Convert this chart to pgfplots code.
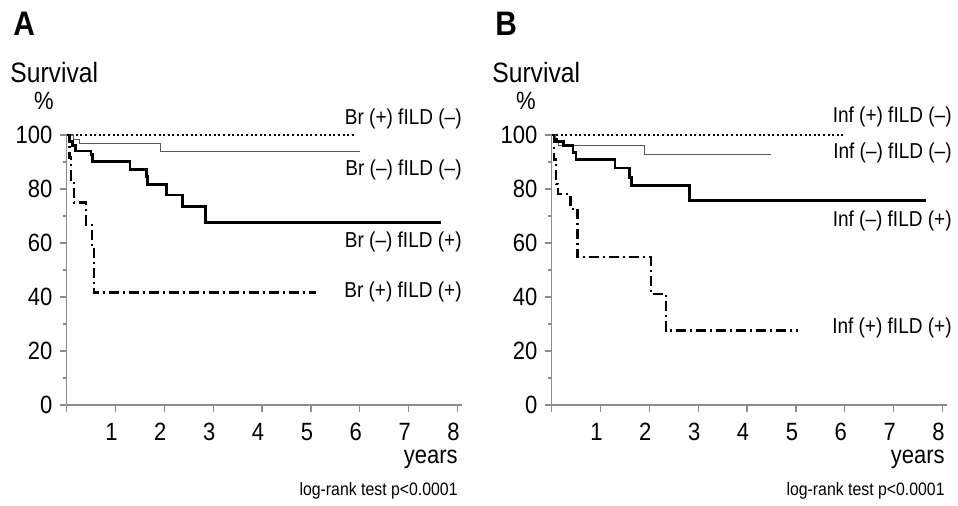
\documentclass[border=0pt]{standalone}
\usepackage{fontspec}
\setmainfont{Liberation Sans}[FakeStretch=0.88]
\usepackage{pgfplots}
\pgfplotsset{compat=1.18}

\pgfplotsset{
  km/.style={
    scale only axis, width=198pt, height=135pt,
    anchor=south west,
    xmin=0, xmax=8.1, ymin=0, ymax=100,
    axis lines*=left, clip=false,
    axis line style={black!45, line width=0.7pt},
    tick align=outside,
    major tick length=3.5pt, minor tick length=2pt,
    every tick/.style={black!45, line width=0.6pt},
    xtick={0,1,...,8}, xticklabels={{},1,2,3,4,5,6,7,8},
    ytick={0,20,...,100}, minor y tick num=1,
    /pgf/number format/assume math mode=true,
    ticklabel style={font=\fontsize{12.5}{12.5}\selectfont},
    xticklabel style={xshift=-2pt, yshift=-2pt},
    yticklabel style={xshift=0pt},
  },
  dotline/.style={black, line width=1pt, dash pattern=on 1pt off 1.3pt},
  thinline/.style={black!65, line width=0.6pt},
  thickline/.style={black, line width=1.4pt},
  dashdot/.style={black, line width=1.1pt, dash pattern=on 5pt off 2pt on 1pt off 2pt},
}

\begin{document}
\begin{tikzpicture}[x=0.5pt,y=-0.5pt]
\path[use as bounding box] (0,0) rectangle (958,506);

% ---- panel A
\begin{axis}[km, at={(33.25pt,-202.5pt)}]
\addplot[dotline, const plot] coordinates {(0,100) (5.92,100)};
\addplot[thinline, const plot] coordinates {
(0,100) (0.14,98.4) (0.26,96.8) (1.92,93.8) (6.0,93.8)};
\addplot[thickline, const plot] coordinates {
(0,100) (0.05,97.5) (0.12,96) (0.19,94.1) (0.50,92.8) (0.54,90.1)
(1.30,87.3) (1.63,84.5) (1.66,81.7) (2.04,77.8) (2.37,73.4) (2.84,67.7) (7.67,67.7)};
\addplot[dashdot, const plot] coordinates {
(0,100) (0.06,91.7) (0.10,83.3) (0.15,75) (0.40,66.7) (0.52,58.3) (0.56,41.7) (5.10,41.7)};
\end{axis}

% ---- panel B
\begin{axis}[km, at={(275.75pt,-202.5pt)}]
\addplot[dotline, const plot] coordinates {(0,100) (6.0,100)};
\addplot[thinline, const plot] coordinates {
(0,100) (0.07,98) (0.15,96.1) (1.91,92.8) (4.48,92.8)};
\addplot[thickline, const plot] coordinates {
(0,100) (0.05,98.5) (0.10,97.7) (0.24,96.1) (0.44,93.4) (0.50,90.9)
(1.30,87.8) (1.60,84.4) (1.64,81.4) (2.83,75.6) (7.66,75.6)};
\addplot[dashdot, const plot] coordinates {
(0,100) (0.05,90.9) (0.10,81.8) (0.14,78) (0.39,72.7) (0.53,54.7) (2.03,41.2) (2.34,27.6) (5.05,27.6)};
\end{axis}

% ---- texts
\begin{scope}[every node/.style={inner sep=0pt}]
\node[anchor=west, font=\fontsize{17}{17}\selectfont\bfseries] at (13,24) {A};
\node[anchor=west, font=\fontsize{17}{17}\selectfont\bfseries] at (495,24) {B};
\node[anchor=west, font=\fontsize{14}{14}\selectfont] at (10,73) {Survival};
\node[anchor=west, font=\fontsize{14}{14}\selectfont] at (492,73) {Survival};
\node[font=\fontsize{12.5}{12.5}\selectfont] at (44,101) {\%};
\node[font=\fontsize{12.5}{12.5}\selectfont] at (526,101) {\%};

\begin{scope}[every node/.append style={anchor=east, font=\fontsize{10.8}{10.8}\selectfont}]
\node at (462,119) {Br (+) fILD (–)};
\node at (462,170) {Br (–) fILD (–)};
\node at (462,242) {Br (–) fILD (+)};
\node at (462,292) {Br (+) fILD (+)};
\node at (952,117) {Inf (+) fILD (–)};
\node at (952,153) {Inf (–) fILD (–)};
\node at (952,221) {Inf (–) fILD (+)};
\node at (952,328) {Inf (+) fILD (+)};
\end{scope}

\node[anchor=base east, font=\fontsize{12.5}{12.5}\selectfont] at (458,464) {years};
\node[anchor=base east, font=\fontsize{12.5}{12.5}\selectfont] at (945,464) {years};
\node[anchor=base east, font=\fontsize{9}{9}\selectfont] at (458,496) {log-rank test p<0.0001};
\node[anchor=base east, font=\fontsize{9}{9}\selectfont] at (945,496) {log-rank test p<0.0001};
\end{scope}
\end{tikzpicture}
\end{document}
